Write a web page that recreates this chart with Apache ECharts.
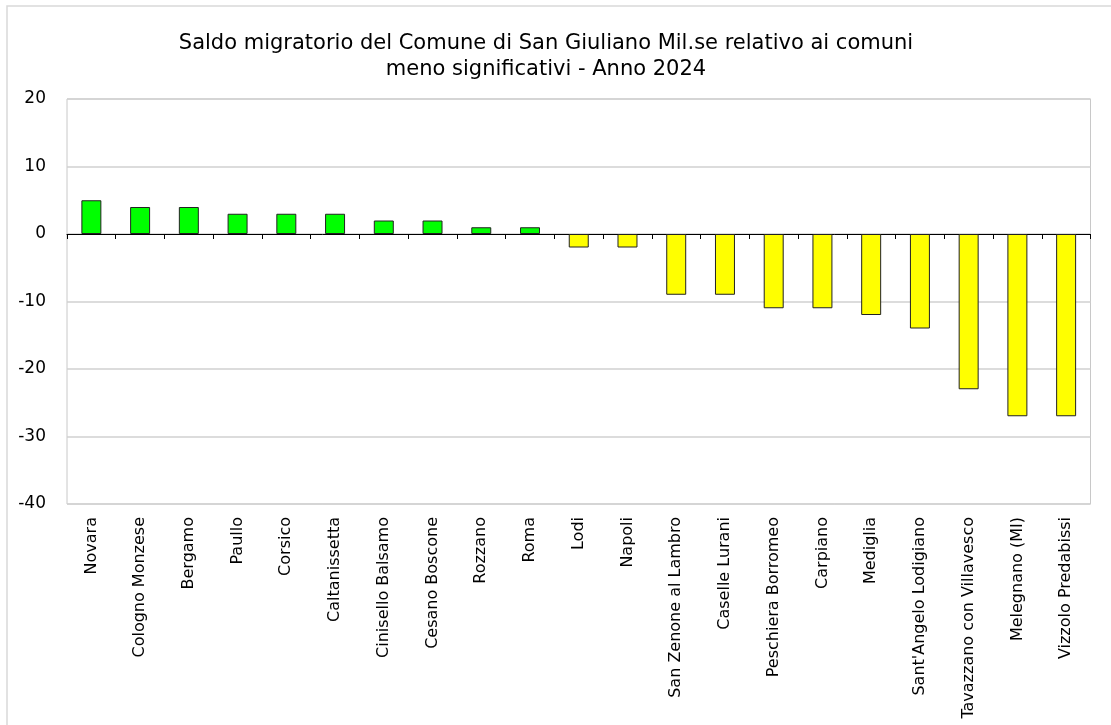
<!DOCTYPE html>
<html>
<head>
<meta charset="utf-8">
<script src="https://cdn.jsdelivr.net/npm/echarts@6/dist/echarts.min.js"></script>
<style>
  html, body { margin: 0; padding: 0; background: #fff; }
  #chart { width: 1111px; height: 725px; }
</style>
</head>
<body>
<div id="chart"></div>
<script>
// comuni e saldo migratorio
const comuni = ['Novara', 'Cologno Monzese', 'Bergamo', 'Paullo', 'Corsico', 'Caltanissetta',
  'Cinisello Balsamo', 'Cesano Boscone', 'Rozzano', 'Roma', 'Lodi', 'Napoli',
  'San Zenone al Lambro', 'Caselle Lurani', 'Peschiera Borromeo', 'Carpiano', 'Mediglia',
  "Sant'Angelo Lodigiano", 'Tavazzano con Villavesco', 'Melegnano (MI)', 'Vizzolo Predabissi'];
const saldo = [5, 4, 4, 3, 3, 3, 2, 2, 1, 1, -2, -2, -9, -9, -11, -11, -12, -14, -23, -27, -27];
const yTicks = [-40, -30, -20, -10, 0, 10, 20];

const font = 'DejaVu Sans, Verdana, sans-serif';
let chart = echarts.init(document.getElementById('chart'));
chart.setOption({
  animation: false,
  textStyle: {fontFamily: font},
  title: {
    text: 'Saldo migratorio del Comune di San Giuliano Mil.se relativo ai comuni\nmeno significativi - Anno 2024',
    left: 541,
    top: 26,
    textAlign: 'center',
    textStyle: {fontSize: 21, fontWeight: 'normal', color: '#000', lineHeight: 26, fontFamily: font}
  },
  graphic: [{
    type: 'rect',
    shape: {x: 7, y: 6, width: 1200, height: 800},
    style: {fill: 'none', stroke: '#d9d9d9', lineWidth: 1.5},
    silent: true
  }],
  grid: {
    left: 67, top: 99, right: 20.5, bottom: 221,
    show: true, borderColor: '#c8c8c8', borderWidth: 1
  },
  xAxis: [
    {
      type: 'category',
      data: comuni,
      axisLine: {onZero: true, lineStyle: {color: '#000', width: 1}},
      axisTick: {show: true, interval: 0, length: 5, lineStyle: {color: '#000'}},
      axisLabel: {show: false}
    },
    {
      type: 'category',
      data: comuni,
      position: 'bottom',
      axisLine: {show: false, onZero: false},
      axisTick: {show: false},
      axisLabel: {rotate: 90, fontSize: 16, color: '#000', margin: 13, interval: 0, fontFamily: font}
    }
  ],
  yAxis: {
    type: 'value',
    min: yTicks[0],
    max: yTicks[yTicks.length - 1],
    interval: 10,
    axisLine: {show: false},
    axisTick: {show: false},
    splitLine: {lineStyle: {color: '#d0d0d0', width: 1.5}},
    axisLabel: {fontSize: 17, color: '#000', margin: 21, fontFamily: font}
  },
  series: [{
    type: 'bar',
    xAxisIndex: 0,
    data: saldo,
    barWidth: '41%',
    itemStyle: {
      color: p => p.value >= 0 ? '#00ff00' : '#ffff00',
      borderColor: '#222',
      borderWidth: 1
    }
  }]
});
</script>
</body>
</html>
